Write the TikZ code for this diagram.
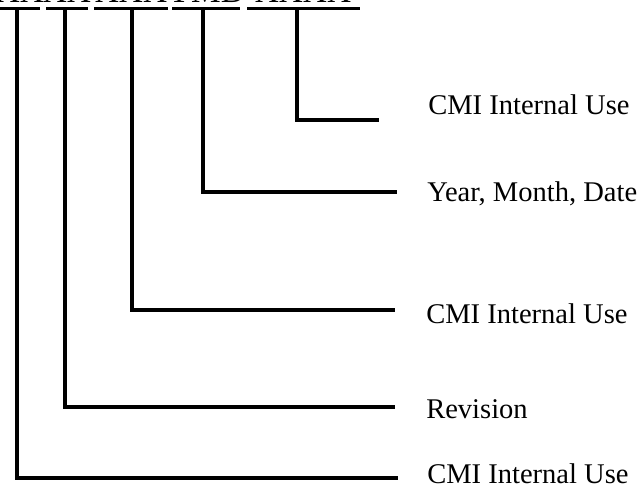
\documentclass[tikz,border=0pt]{standalone}
\usepackage{fontspec}
\setmainfont{Liberation Serif}
\begin{document}
\begin{tikzpicture}[x=0.75pt,y=-0.75pt,
  lbl/.style={anchor=base west,inner sep=0pt,font=\fontsize{21.4pt}{24pt}\selectfont},
  code/.style={anchor=base,inner sep=0pt,font=\fontsize{25pt}{28pt}\selectfont},
  wire/.style={line width=2.4pt,line cap=rect,line join=miter},
  uline/.style={line width=2.4pt}]
\useasboundingbox (0,0) rectangle (641,491);
\clip (0,0) rectangle (641,491);
% code text (clipped at the top edge)
\node[code] (g1) at (20,3) {XX};
\node[code] (g2) at (67,3) {XX};
\node[code] (g3) at (131,3) {XXX};
\node[code] (g4) at (206,3) {YMD};
\node[code] (g5) at (303,3) {XXXX};
% underlines
\draw[uline] (0,8.5) -- (40,8.5);
\draw[uline] (46,8.5) -- (88,8.5);
\draw[uline] (94,8.5) -- (168,8.5);
\draw[uline] (172,8.5) -- (240,8.5);
\draw[uline] (247,8.5) -- (360,8.5);
% tops of the leaders
\coordinate (t1) at (17,9);
\coordinate (t2) at (65,9);
\coordinate (t3) at (132,9);
\coordinate (t4) at (203,9);
\coordinate (t5) at (297,9);
% ends of the leaders
\coordinate (e5) at (377,120);
\coordinate (e4) at (395,192);
\coordinate (e3) at (393,310);
\coordinate (e2) at (393,407);
\coordinate (e1) at (396,478);
% labels
\node[lbl] (l5) at (428,115) {CMI Internal Use};
\node[lbl] (l4) at (427,202) {Year, Month, Date};
\node[lbl] (l3) at (426,323) {CMI Internal Use};
\node[lbl] (l2) at (426,418) {Revision};
\node[lbl] (l1) at (427,483) {CMI Internal Use};
% leaders
\draw[wire] (t5) |- (e5);
\draw[wire] (t4) |- (e4);
\draw[wire] (t3) |- (e3);
\draw[wire] (t2) |- (e2);
\draw[wire] (t1) |- (e1);
\end{tikzpicture}
\end{document}
